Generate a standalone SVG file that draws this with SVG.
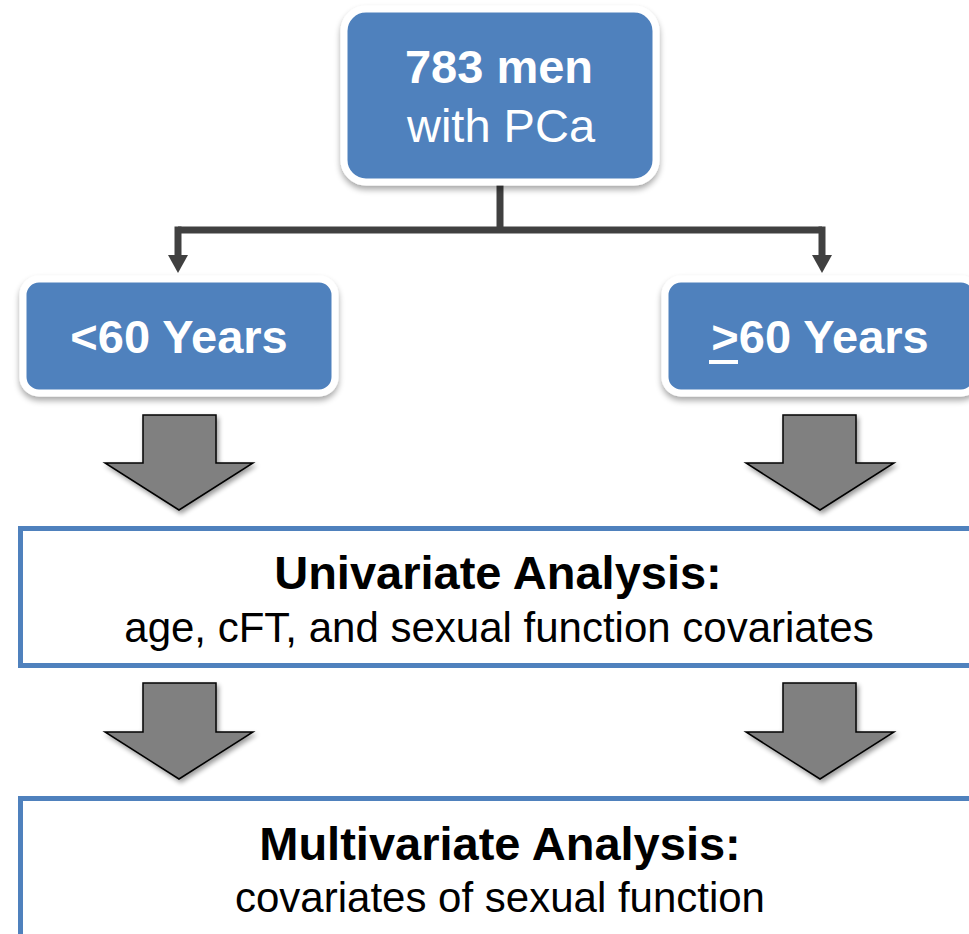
<svg xmlns="http://www.w3.org/2000/svg" width="969" height="934" viewBox="0 0 969 934">
<style>
.blue{fill:#4F81BD;stroke:#FFFFFF;stroke-width:7;filter:url(#sh)}
.wt{fill:#FFFFFF;font-family:"Liberation Sans",Arial,sans-serif;font-size:47px;text-anchor:middle}
.bk{fill:#000000;font-family:"Liberation Sans",Arial,sans-serif;text-anchor:middle}
.b{font-weight:bold}
.frame{fill:#FFFFFF;stroke:#4F81BD;stroke-width:5}
.blk{fill:#808080;stroke:#000000;stroke-width:1.5;stroke-linejoin:miter;filter:url(#sh2)}
.conn{fill:none;stroke:#404040;stroke-width:7}
</style>
<defs>
<filter id="sh" x="-10%" y="-10%" width="120%" height="130%">
<feGaussianBlur in="SourceAlpha" stdDeviation="3"/>
<feOffset dx="0" dy="4" result="o"/>
<feComponentTransfer><feFuncA type="linear" slope="0.35"/></feComponentTransfer>
<feMerge><feMergeNode/><feMergeNode in="SourceGraphic"/></feMerge>
</filter>
<filter id="sh2" x="-10%" y="-10%" width="130%" height="130%">
<feGaussianBlur in="SourceAlpha" stdDeviation="2.5"/>
<feOffset dx="2" dy="3" result="o"/>
<feComponentTransfer><feFuncA type="linear" slope="0.4"/></feComponentTransfer>
<feMerge><feMergeNode/><feMergeNode in="SourceGraphic"/></feMerge>
</filter>
<marker id="ah" markerUnits="userSpaceOnUse" markerWidth="22" markerHeight="18" refX="11" refY="16" orient="auto-start-reverse" viewBox="0 0 22 18">
<path d="M0,0 L22,0 L11,18 Z" fill="#404040"/>
</marker>
</defs>
<rect width="969" height="934" fill="#FFFFFF"/>

<g id="connectors">
<path class="conn" d="M500,185 V230"/>
<path class="conn" d="M178,230 H822"/>
<path class="conn" d="M178,226.5 V257"/>
<path class="conn" d="M822,226.5 V257"/>
<path d="M168,255 L188,255 L178,273 Z" fill="#404040"/>
<path d="M812,255 L832,255 L822,273 Z" fill="#404040"/>
</g>

<g id="node-total">
<rect class="blue" x="344" y="9" width="312" height="173" rx="22"/>
<text class="wt b" x="499" y="83">783 men</text>
<text class="wt" x="501" y="142">with PCa</text>
</g>

<g id="node-under60">
<rect class="blue" x="23" y="279" width="312" height="114" rx="16"/>
<text class="wt b" x="179" y="353">&lt;60 Years</text>
</g>

<g id="node-over60">
<rect class="blue" x="665" y="279" width="312" height="114" rx="16"/>
<text class="wt b" x="820" y="353">&gt;60 Years</text>
<rect x="709" y="360" width="29" height="4" fill="#FFFFFF"/>
</g>

<g id="arrows-1">
<path class="blk" d="M143,415 H216 V463 H253 L179,510 L105,463 H143 Z"/>
<path class="blk" d="M783,415 H856 V463 H894 L820,510 L746,463 H783 Z"/>
</g>

<g id="node-univariate">
<rect class="frame" x="20.5" y="528.5" width="960" height="137"/>
<text class="bk b" x="498" y="589" font-size="47">Univariate Analysis:</text>
<text class="bk" x="499" y="642" font-size="42">age, cFT, and sexual function covariates</text>
</g>

<g id="arrows-2">
<path class="blk" d="M143,683 H216 V732 H253 L179,779 L105,732 H143 Z"/>
<path class="blk" d="M783,683 H856 V732 H894 L820,779 L746,732 H783 Z"/>
</g>

<g id="node-multivariate">
<rect class="frame" x="20.5" y="798.5" width="960" height="160"/>
<text class="bk b" x="500" y="860" font-size="47">Multivariate Analysis:</text>
<text class="bk" x="500" y="912" font-size="42">covariates of sexual function</text>
</g>
</svg>
